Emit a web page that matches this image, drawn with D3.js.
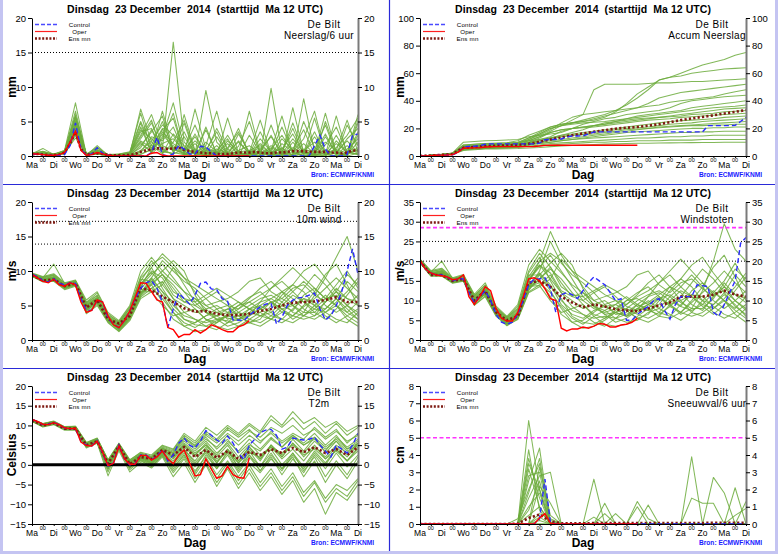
<!DOCTYPE html>
<html><head><meta charset="utf-8">
<script src="https://cdn.jsdelivr.net/npm/d3@7"></script>
<style>
body{margin:0;background:#fff}
svg{display:block}
text{font-family:'Liberation Sans',Arial,Helvetica,sans-serif}
</style>
</head><body>
<script>
// ---------------- time base & labels ----------------
const hours6 = d3.range(0, 361, 6);
const hours12 = d3.range(0, 361, 12);
const dayHours = d3.range(0, 361, 24);
const midnightHours = d3.range(12, 360, 24);
const dayLabels = ["Ma","Di","Wo","Do","Vr","Za","Zo","Ma","Di","Wo","Do","Vr","Za","Zo","Ma","Di"];
const midnightLabel = "00";
const titleText = "Dinsdag  23 December  2014  (starttijd  Ma 12 UTC)";
const station = "De Bilt";
const legendNames = ["Control", "Oper", "Ens mn"];
const xTitle = "Dag";
const sourceText = "Bron: ECMWF/KNMI";

// ---------------- Neerslag / 6 uur ----------------
const precipTicks = [0,5,10,15,20];
const precipRefs = [15];
const precipControl = [0.2,0.3,0.2,0.1,0.1,0.1,0.2,1.5,4.8,1.0, 0.1,0.3,1.2,0.4,0.1,0,0,0,0,0, 0,0,0.5,2.7,0.2,0,0.3,1.5,1.0,0.3, 0.3,1.4,1.3,0.6,0,0,0,0,0,0, 0,0,0,0,0,0,0,0,0,0, 0,0,1.5,3.0,1.0,0,0,0,0.2,3.0, 3.2];
const precipOper = [0.3,0.3,0.2,0.1,0.1,0.2,0.5,2.0,3.6,0.8, 0.1,0.2,0.5,0.3,0.1,0,0,0,0,0, 0,0,0.4,0.5,0.1,0,0,0,0,0, 0,0,0,0,0,0,0,0,0,0, 0];
const precipMean = [0.3,0.3,0.2,0.15,0.15,0.2,0.5,1.8,3.5,1.0, 0.2,0.3,0.4,0.3,0.15,0.1,0.1,0.1,0.15,0.3, 0.6,0.8,1.0,1.1,1.1,1.0,1.1,1.2,0.9,0.7, 0.6,0.5,0.4,0.4,0.3,0.3,0.3,0.4,0.5,0.5, 0.5,0.6,0.5,0.4,0.4,0.5,0.5,0.6,0.7,0.7, 0.7,0.6,0.6,0.6,0.6,0.5,0.5,0.4,0.5,0.8, 0.8];
const precipMembers = [
[0.3,0.5,0.2,0.6,4.5,0.2,0.8,0.1,0,0.2,6.8,2.0,0.5,1.5,0.3,0,0.8,3.5,0.2,0,0.5,1.2,0,0.3,2.5,0.5,0,0.8,0.2,1.5,0.3],
[0.2,0.3,0.1,0.5,5.5,0.1,0.5,0,0.1,0.5,2.5,4.8,1.0,16.5,2.0,0.5,0,0.3,1.8,0.2,0,0.6,3.0,0.1,0,0.4,5.5,0.3,0,0.2,1.0],
[0.3,1.1,0.2,0.4,3.2,0.3,1.2,0.2,0,0,1.5,3.5,5.8,0.5,0.2,6.8,1.0,0,0.4,2.2,0.3,0,0.5,4.2,0.6,0,0.3,2.8,0.5,0,4.8],
[0.2,0.4,0.3,0.8,7.7,0.2,0.4,0,0,0.3,4.2,0.5,2.8,7.7,1.2,0.3,0.2,1.5,0,0.3,6.5,0.5,0.2,0,1.0,3.8,0.2,0,2.2,0.5,0.3],
[0.3,0.3,0.2,0.5,4.0,0.1,0.9,0.1,0.2,0.4,3.0,6.0,1.5,0.8,3.5,0.2,9.5,2.0,0.3,0,0.8,0.2,1.5,0.4,0,0.3,0.9,4.5,0.3,0.2,2.0],
[0.4,0.6,0.2,0.7,5.0,0.3,0.6,0.1,0,0.1,0.8,2.2,4.5,3.0,0.5,1.8,0.3,0,5.5,0.5,0,1.8,0.3,0,7.0,0.5,0.3,0,1.2,3.0,5.5],
[0.2,0.3,0.2,0.3,3.0,0.1,0.3,0,0,0,0.2,1.0,3.8,5.5,0.4,0,1.2,0.5,0,3.2,0.6,0,9.8,0.5,0.2,0.8,2.0,0.3,0,0.5,0.8],
[0.3,0.5,0.1,0.6,6.0,0.2,0.7,0.2,0.3,0.6,5.0,1.5,0.3,2.0,5.2,0.6,0.2,0.8,2.5,0,0.3,3.5,0.4,1.2,0,8.3,0.6,0.2,0.4,0,3.5],
[0.2,0.4,0.2,0.4,4.2,0.1,1.5,0.1,0,0.2,1.8,0.6,6.5,1.0,0.2,0.5,3.8,0.4,0.2,0.6,0,0.4,1.0,3.0,0.5,0,0.2,1.6,4.2,0.6,0.2],
[0.3,0.3,0.2,0.5,3.6,0.2,0.5,0,0.1,0.3,3.5,4.0,0.8,0.3,1.0,4.5,0.6,0,0.2,1.4,5.0,0.3,0,0.6,4.0,0.2,0,5.0,0.6,2.2,0.5],
[0.4,0.7,0.3,0.6,5.8,0.3,0.4,0.1,0,0.1,0.5,2.8,2.2,4.2,0.6,0.3,1.5,6.5,0.4,0,0.2,2.5,0.6,0.2,1.2,0.4,3.5,0.2,0,4.5,1.5],
[0.2,0.3,0.2,0.4,2.6,0.1,0.6,0.2,0.2,0.4,2.2,1.2,4.0,0.6,2.8,0.4,0,0.5,3.0,0.5,0.3,0,0.8,5.8,0.3,0.6,0,0.4,3.0,0.3,6.0],
[0.3,0.4,0.2,0.5,4.8,0.2,1.0,0.1,0,0.2,4.8,0.3,1.8,2.5,0.8,2.8,0.4,0.2,0.9,4.0,0.2,0.7,0,1.8,0.6,2.5,6.5,0.3,0.6,0,0.4],
[0.2,0.5,0.2,0.7,6.5,0.1,0.3,0,0.1,0.2,1.2,3.8,0.6,0.4,4.8,0.2,2.0,0.6,0,0.8,1.5,0.2,4.5,0.3,0,1.0,0.5,2.0,0.8,5.2,0.6],
[0.3,0.3,0.3,0.4,3.8,0.2,0.8,0.1,0.3,0.5,6.2,0.8,3.2,1.2,0.3,0.5,0.6,4.0,1.0,0.2,0.5,5.2,0.3,0,2.0,0.3,0.8,0.2,5.8,0.3,1.2],
[0.2,0.4,0.1,0.5,5.2,0.3,0.5,0.1,0,0,0.6,1.6,5.0,0.9,0.5,3.2,0.3,1.0,0.4,0,3.0,0.6,0.2,2.5,0.8,0,0.5,3.2,0.2,1.0,2.5],
[0.3,0.6,0.2,0.6,4.4,0.2,0.6,0.2,0.1,0.3,2.8,5.2,0.4,3.2,1.5,0.2,4.2,0.3,0.6,2.0,0.4,0,1.2,0.5,4.8,0.6,0.2,0.8,0.3,2.5,4.0],
[0.2,0.3,0.2,0.3,3.4,0.1,1.3,0,0,0.2,0.3,0.9,2.5,6.2,0.3,1.0,0.4,0.2,2.2,0.6,0.8,1.5,0.3,0.6,0.2,5.0,1.2,0.4,1.8,0.6,0.3],
[0.4,0.5,0.2,0.8,5.6,0.2,0.4,0.1,0.2,0.4,3.8,2.5,1.0,0.2,6.0,0.8,0.2,2.8,0.3,0.5,0.2,0.9,2.8,0.4,0.5,1.8,0.3,6.2,0.5,0.2,3.0],
[0.3,0.4,0.2,0.5,4.6,0.2,0.7,0.1,0.1,0.2,2.0,0.5,3.5,1.8,0.6,2.2,0.8,0.4,1.2,3.5,0.3,0.4,0.6,1.0,3.2,0.4,2.8,0.5,0.9,0.4,5.2]
];

// ---------------- Accum Neerslag ----------------
const accumTicks = [0,20,40,60,80,100];
const accumControl = [0,0.1,0.3,0.5,0.6,0.7,0.9,2.4,6.5,7.0, 7.1,7.4,8.5,8.8,8.8,8.8,8.8,8.8,8.8,8.8, 8.8,8.8,9.3,11.8,12.0,12.0,12.3,13.8,14.5,14.5, 14.6,16.0,17.4,17.5,17.5,17.5,17.5,17.5,17.5,17.5, 17.5,17.5,17.5,17.5,17.5,17.5,17.5,17.5,17.5,17.5, 17.5,17.5,17.5,22.0,22.0,22.0,22.0,22.0,22.2,25.0, 28.0];
const accumOper = [0,0.1,0.3,0.5,0.6,0.7,1.0,2.8,5.6,5.8, 5.9,6.0,6.5,6.7,6.8,6.8,6.8,6.8,6.8,6.8, 6.8,6.9,7.2,7.7,7.8,7.8,7.8,7.8,7.8,7.8, 7.8,7.8,7.8,7.8,7.8,7.8,7.8,7.8,7.8,7.8, 7.8];
const accumMean = [0,0.4,0.8,1.5,6.0,6.5,7.2,7.5,7.7,8.0, 8.8,10.3,12.0,13.5,15.0,16.3,17.5,18.7,19.8,20.5, 21.0,22.0,23.0,24.5,26.0,27.2,28.3,29.5,30.8,32.0, 33.3];
const accumMembers = [
[0,0.5,1.0,1.8,6,6.5,7,7.5,8,9,12,16,20,22,24,26,28,30,33,37,42,48,55,57,60,63,66,68,70,73,75],
[0,0.4,0.9,1.6,7,7.5,8,8.3,8.6,9.5,13,17,21,23,24,25,26,28,32,38,45,50,55,57,58,60,61,62,63,63.5,64],
[0,0.3,0.8,1.5,5,5.5,6,6.3,6.8,8,11,14,18,22,26,30,48,52,52,52,52,52.5,53,53,53.5,54,54,54.5,55,55.5,56],
[0,0.5,1.2,2.0,8,8.5,9,9.3,9.6,11,15,18,21,23,24,25,27,29,31,33,35,38,42,44,46,47,48,49,50,51,52],
[0,0.4,1.0,1.7,6.5,7,7.5,7.8,8,9,12,15,19,24,28,30,31,32,33,34,35,36,37,39,40,41,42,43,45,46.5,48],
[0,0.6,1.3,2.2,10,10.5,11,11.3,11.6,12,14,15,16,17,20,23,25,27,28,30,31,32,33,35,38,40,41,42,43,43.5,44],
[0,0.3,0.7,1.3,5,5.5,6,6.2,6.5,7.5,10,13,17,19,20,21,22,23,25,27,29,30,31,32,33,35,36,37,38,39,40],
[0,0.5,1.1,1.9,7.5,8,8.5,8.8,9,10,13,16,20,22,23,24,24.5,25,26,27,28,29,30,31,32,33,34,35,35.5,36,37],
[0,0.4,0.9,1.5,5.5,6,6.5,6.8,7,8,10,12,14,18,20,21,22,23,24,25,26,27,28,29,30,31,32,33,34,34.5,35],
[0,0.3,0.8,1.4,6,6.3,6.8,7,7.2,8,9,11,13,15,17,19,22,24,25,26,27,27.5,28,28.5,29,30,30.5,31,32,32.5,33],
[0,0.5,1.0,1.8,7,7.5,8,8.2,8.5,9,11,14,17,19,20,20.5,21,22,23,24,25,26,26.5,27,28,28.5,29,29.5,30,30.5,31],
[0,0.4,0.9,1.6,6.5,7,7.5,7.7,8,8.5,9.5,11,13,15,16,17,18,19,20,21,22,23,24,25,25.5,26,26.5,27,28,28.5,29],
[0,0.3,0.7,1.2,4.5,5,5.5,5.7,6,6.5,8,10,12,14,15,16,17,18,19,20,20.5,21,22,23,23.5,24,25,25.5,26,26.5,27],
[0,0.4,0.9,1.5,6,6.5,7,7.2,7.5,8,9,10,11,12,13,14,15,16,17,18,19,20,21,21.5,22,22.5,23,23.5,24,24.5,25],
[0,0.5,1.1,1.9,8,8.5,9,9.2,9.5,10,11,12,13,14,15,15.5,16,17,18,19,19.5,20,20.5,21,21.5,22,22,22.5,22.5,23,23],
[0,0.3,0.8,1.4,5,5.5,6,6.2,6.5,7,8,9,10,11,12,13,14,15,16,17,17.5,18,18.5,19,19.5,20,20,20.5,20.5,21,21],
[0,0.4,0.9,1.6,6,6.5,7,7.2,7.4,7.8,8.5,9,10,11,12,12.5,13,13.5,14,14.5,15,15.5,16,16.5,17,17,17.5,17.5,18,18,18],
[0,0.3,0.7,1.2,4.5,5,5.5,5.6,5.8,6.2,7,8,9,9.5,10,10.5,11,11.5,12,12.5,13,13,13.5,14,14,14.5,14.5,15,15,15,15],
[0,0.4,0.8,1.4,5,5.5,6,6.1,6.3,6.6,7,7.5,8,8.5,9,9.5,10,10,10.5,10.5,11,11,11,11.5,11.5,11.5,12,12,12,12,12],
[0,0.3,0.7,1.2,4,4.5,5,5.1,5.2,5.4,5.8,6.2,6.8,7.2,7.6,8,8.3,8.6,8.8,9,9.2,9.3,9.4,9.5,9.6,9.7,9.8,9.8,9.9,10,10]
];

// ---------------- 10m wind ----------------
const windTicks = [0,5,10,15,20];
const windRefs = [10.8, 13.9, 17.2];
const windControl = [9.5,9.2,8.6,8.4,8.9,8.2,8.0,8.3,8.2,6.0, 4.3,4.3,5.8,5.5,3.2,2.3,1.8,2.8,4.2,6.0, 7.5,8.3,8.6,7.5,5.5,1.8,4.5,6.8,6.0,5.2, 6.5,8.2,8.4,7.4,7.3,6.0,5.6,2.9,2.9,2.8, 3.6,4.2,4.8,5.2,5.3,2.3,3.3,5.0,5.8,6.1, 6.2,6.5,6.8,4.5,2.9,3.5,5.0,7.0,10.0,13.2, 9.5];
const windOper = [9.5,9.0,8.5,8.3,8.8,8.0,7.8,8.3,8.0,5.5, 4.0,4.3,5.8,5.5,3.5,2.2,1.8,2.8,4.2,6.2, 8.3,8.2,7.0,5.8,5.5,1.8,1.5,0.4,0.8,0.8, 1.5,1.0,1.5,2.2,1.9,1.5,1.2,1.2,1.9,2.2, 2.8];
const windMean = [9.4,8.6,8.8,7.8,8.2,4.7,5.8,3.0,2.4,3.5, 7.5,7.2,6.3,5.5,4.6,4.1,4.2,3.8,3.6,3.6, 3.8,4.2,4.5,5.0,5.4,5.5,5.6,5.8,6.2,5.5, 5.5];
const windMembers = [
[9.5,8.8,9.0,7.8,8.2,4.8,5.8,3.0,2.0,3.8,7.5,9.0,7.0,4.5,3.0,2.5,3.5,4.0,3.2,2.8,4.5,5.5,6.0,5.0,4.2,6.5,7.5,6.0,5.0,4.0,5.5],
[9.3,8.5,8.6,7.5,8.0,4.2,5.5,2.8,1.5,3.2,6.8,8.2,9.5,8.0,6.0,4.5,3.0,2.5,3.8,5.0,6.2,7.0,5.5,4.0,3.5,4.8,6.0,7.5,9.0,7.5,6.0],
[9.6,9.0,11.0,8.2,8.5,5.2,6.2,3.4,2.4,4.2,8.5,11.0,12.0,10.5,8.0,5.5,4.0,3.5,2.5,3.0,4.0,3.5,4.5,6.5,8.0,7.0,5.0,4.5,6.0,8.5,7.0],
[9.4,8.7,8.8,7.8,8.3,4.6,5.9,3.0,1.8,3.5,7.0,7.5,6.0,4.0,2.5,1.8,2.8,3.5,4.5,3.5,2.5,3.0,5.0,7.0,6.0,4.5,3.5,5.5,7.0,5.0,3.5],
[9.5,8.9,9.2,8.0,8.0,5.0,6.0,3.2,2.2,4.0,8.0,10.0,9.0,6.5,5.5,6.0,4.5,3.0,2.0,2.5,3.5,5.5,7.5,8.5,7.0,5.5,4.0,3.0,4.5,6.5,8.5],
[9.2,8.4,8.5,7.3,7.8,3.8,5.0,2.5,1.2,2.8,6.0,7.0,8.0,10.5,9.0,7.0,5.0,4.0,4.5,5.5,4.5,3.5,3.0,4.0,5.5,7.5,9.5,8.0,6.0,4.0,3.0],
[9.6,9.1,9.4,8.1,8.6,5.5,6.8,3.8,2.6,4.5,9.0,10.5,7.5,5.0,3.5,3.0,2.0,1.5,2.5,4.0,5.0,6.0,6.5,5.5,4.0,3.5,4.5,6.0,8.0,10.0,7.5],
[9.3,8.6,8.7,7.6,8.1,4.4,5.6,2.9,1.6,3.3,6.5,8.5,10.0,11.5,10.0,6.5,4.0,3.0,3.5,4.0,3.0,2.5,3.5,5.0,6.5,5.5,4.5,4.0,5.0,3.5,2.5],
[9.5,8.8,9.1,7.9,8.4,5.1,6.1,3.3,2.1,4.1,7.8,9.5,11.0,9.0,7.0,5.0,6.0,7.0,5.5,4.0,3.5,4.5,5.5,4.5,3.0,4.0,6.5,9.0,12.0,15.0,10.0],
[9.4,8.7,8.9,7.7,8.2,4.7,5.7,3.1,1.9,3.7,7.2,8.0,5.5,3.0,2.0,2.5,3.5,4.5,5.0,3.5,2.5,2.0,3.0,4.5,5.0,6.0,5.5,4.0,3.0,2.5,4.0],
[9.7,9.2,9.6,8.3,8.7,5.8,7.0,4.0,2.8,5.0,10.0,12.0,10.0,8.5,7.0,6.0,5.0,5.5,6.0,7.0,8.5,9.0,7.0,6.0,7.5,8.0,6.5,5.5,7.0,9.5,8.0],
[9.3,8.5,8.6,7.4,7.9,4.0,5.2,2.6,1.3,3.0,6.2,7.5,8.5,6.0,4.0,3.0,2.5,3.0,2.8,2.0,2.5,3.5,4.0,3.0,2.5,3.5,5.0,6.5,5.0,3.0,2.0],
[9.5,8.9,9.0,7.9,8.3,4.9,6.0,3.2,2.3,4.3,8.2,9.8,8.0,6.0,5.0,4.0,4.5,5.0,4.0,3.0,4.0,5.0,4.0,5.5,7.0,8.5,7.0,5.0,4.0,5.0,6.5],
[9.4,8.6,8.8,7.6,8.1,4.3,5.4,2.7,1.7,3.4,6.8,9.0,11.5,10.0,8.5,7.5,6.0,4.5,3.0,3.5,4.5,4.0,3.0,2.5,3.5,5.0,7.0,9.5,11.0,8.0,5.0],
[9.6,9.0,9.3,8.0,8.5,5.3,6.4,3.5,2.5,4.6,8.8,8.5,6.5,4.0,2.0,1.2,1.5,2.5,3.5,4.5,6.0,7.5,8.5,7.0,5.0,3.5,3.0,4.0,5.5,7.0,9.0],
[9.3,8.5,8.7,7.5,8.0,4.5,5.5,2.9,1.4,3.1,6.4,8.0,9.5,7.5,5.5,5.0,4.0,3.5,4.0,5.0,5.5,4.5,3.5,3.0,4.5,6.0,5.0,3.5,2.5,3.5,4.5],
[9.5,8.8,9.1,7.8,8.3,5.0,6.0,3.1,2.0,3.9,7.6,10.5,12.5,11.0,9.0,8.0,7.0,6.0,5.0,4.5,5.5,6.5,7.5,9.0,10.5,9.0,7.5,6.0,6.5,5.0,4.0],
[9.4,8.7,8.9,7.7,8.2,4.6,5.8,3.0,1.9,3.6,7.0,7.0,5.0,3.5,4.0,4.5,3.0,2.0,1.5,2.0,3.0,4.0,5.5,6.0,5.0,4.0,4.0,5.5,7.5,6.0,5.0],
[9.6,9.1,9.5,8.2,8.6,5.4,6.5,3.6,2.7,4.8,9.2,11.5,9.5,7.0,6.0,5.5,6.5,7.5,6.5,5.5,4.5,5.0,6.0,7.0,8.0,10.0,11.0,9.0,7.0,6.0,5.5],
[9.4,8.6,8.8,7.6,8.0,4.4,5.6,2.8,1.6,3.4,6.6,8.8,7.0,5.5,3.0,2.2,2.0,2.8,3.5,3.0,3.5,4.5,5.5,4.5,3.5,3.0,3.5,4.5,6.0,4.5,3.0]
];

// ---------------- Windstoten ----------------
const gustTicks = [0,5,10,15,20,25,30,35];
const gustRefs = [20, 25];
const gustAlarm = [28.5];
const gustControl = [20.0,18,17,16.5,16.5,16,15,15.5,15.5,12, 9.5,11,12.5,10,6.5,4.5,4.0,4.5,6.5,10, 14,15.5,15.5,15.8,13,7,11.5,12,11.5,10.5, 12.5,14.5,16,15,14,12,10,10.5,5,5, 6.5,7.5,8.5,10,10.5,7.5,5.3,9,11,11, 11,14,13.8,13.5,7,6,9,12,15,24.5, 26];
const gustOper = [20.2,18,17,16.5,16.3,16,15.3,15.5,16.5,11, 9,11,13.5,12.5,8,5.5,4.8,4.8,7,11, 15.5,15.8,15,13,10.5,10,3,2.3,2.8,2.8, 3.3,3.0,3.5,4.2,4.0,3.3,3.3,3.8,4.0,4.5, 5.5];
const gustMean = [20,16.5,16.5,15,15.5,10,12.5,7,5,6, 14.5,15,13.5,11,9.5,8.3,9,8.5,7.8,7.5, 7.3,8,8.8,9.5,11,11,11,11.5,12.5,11.5, 11];
const gustMembers = [
[20.0,16.8,17.0,15.0,15.5,10.0,12.5,7.0,4.8,6.5,14.0,17.0,14.0,9.0,6.5,5.5,7.5,8.5,7.0,6.0,9.0,11.0,12.0,10.0,8.5,12.5,14.5,12.0,10.0,8.0,11.0],
[19.8,16.5,16.4,14.6,15.2,9.2,11.8,6.5,4.2,5.8,13.0,15.5,18.0,15.5,12.0,9.0,6.5,5.5,7.5,10.0,12.0,13.5,11.0,8.5,7.0,9.5,12.0,14.5,17.5,14.5,12.0],
[20.3,17.2,20.0,15.6,16.0,10.8,13.2,7.6,5.4,7.5,16.0,20.0,22.0,20.0,15.5,11.0,8.5,7.5,5.5,6.5,8.0,7.5,9.0,12.5,15.5,13.5,10.0,9.0,12.0,16.5,13.5],
[19.9,16.7,16.8,15.0,15.6,9.8,12.6,7.0,4.6,6.2,13.5,14.5,12.0,8.5,5.5,4.0,6.0,7.5,9.0,7.5,5.5,6.5,10.0,13.5,12.0,9.0,7.5,11.0,13.5,10.0,7.5],
[20.1,16.9,17.4,15.2,15.3,10.4,12.8,7.2,5.0,6.8,15.0,19.0,17.0,12.5,11.0,12.0,9.0,6.5,4.5,5.5,7.5,11.0,14.5,16.5,13.5,11.0,8.5,6.5,9.0,12.5,16.0],
[19.6,16.2,16.2,14.4,14.9,8.8,11.0,6.0,3.8,5.2,12.0,13.5,15.5,20.5,17.5,13.5,10.0,8.5,9.0,11.0,9.0,7.5,6.5,8.5,11.0,14.5,18.0,15.5,12.0,8.5,6.5],
[20.4,17.4,17.8,15.5,16.4,11.2,14.0,8.2,5.8,8.0,17.0,21.0,15.0,10.0,7.5,6.5,4.5,3.5,5.5,8.0,10.0,11.5,12.5,11.0,8.5,7.5,9.0,12.0,15.0,19.5,14.5],
[19.7,16.4,16.5,14.7,15.4,9.4,11.6,6.4,4.0,5.6,12.5,16.5,19.5,22.0,19.0,13.0,8.5,6.5,7.0,8.0,6.5,5.5,7.0,10.0,12.5,11.0,9.0,8.0,10.0,7.5,5.5],
[20.2,17.0,17.6,15.3,15.8,10.6,12.9,7.4,5.2,7.2,15.2,18.5,21.5,17.5,13.5,10.0,12.0,13.5,11.0,8.5,7.5,9.0,11.0,9.0,6.5,8.0,12.5,20.0,29.5,23.0,20.0],
[19.9,16.6,16.9,14.9,15.5,9.6,12.2,6.8,4.5,6.0,13.8,15.0,11.0,6.5,4.5,5.0,7.0,9.0,10.0,7.5,5.5,4.5,6.0,9.0,10.0,11.5,11.0,8.5,6.5,5.5,8.0],
[20.5,17.6,18.2,15.8,16.6,11.6,14.5,8.6,6.0,9.0,19.0,23.0,20.0,17.0,14.0,12.0,10.0,11.0,12.0,13.5,16.5,17.5,14.0,12.0,14.5,15.5,13.0,11.0,13.5,18.0,15.5],
[19.6,16.3,16.3,14.5,15.0,8.9,11.2,6.2,3.6,5.4,12.2,14.0,16.5,12.0,8.5,6.5,5.5,6.0,5.5,4.5,5.0,7.0,8.0,6.5,5.0,7.0,10.0,12.5,10.0,6.5,4.5],
[20.0,17.0,17.2,15.1,15.7,10.2,12.7,7.1,5.1,7.0,15.5,19.0,15.5,12.0,10.0,8.0,9.0,10.0,8.0,6.0,8.0,10.0,8.0,11.0,13.5,16.5,13.5,10.0,8.0,10.0,12.5],
[19.8,16.5,16.7,14.8,15.3,9.3,11.9,6.6,4.3,5.9,13.2,17.5,25.0,19.5,16.5,14.5,12.0,9.0,6.5,7.0,9.0,8.0,6.0,5.5,7.0,10.0,13.5,18.5,21.5,16.0,10.0],
[20.3,17.1,17.5,15.4,16.2,11.0,13.5,7.8,5.6,7.8,16.5,16.5,12.5,8.0,4.5,3.0,3.5,5.0,7.0,9.0,11.5,14.5,16.5,13.5,10.0,7.0,6.0,8.0,10.5,13.5,17.0],
[19.7,16.4,16.6,14.6,15.1,9.5,11.7,6.5,4.1,5.7,12.8,15.5,18.5,14.5,11.0,10.0,8.0,7.0,8.0,10.0,10.5,9.0,7.0,6.0,9.0,11.5,10.0,7.0,5.5,7.0,9.0],
[20.1,16.9,17.3,15.2,15.8,10.3,12.8,7.1,4.9,6.6,14.5,20.0,27.5,21.5,17.5,15.5,13.5,11.5,10.0,9.0,11.0,12.5,14.5,17.5,20.5,17.5,14.5,11.5,12.5,10.0,8.0],
[19.9,16.7,16.9,14.9,15.5,9.8,12.3,6.9,4.6,6.4,13.6,13.8,10.0,7.0,8.0,9.0,6.0,4.0,3.5,4.0,6.0,8.0,10.5,11.5,9.5,8.0,8.0,10.5,14.5,11.5,9.5],
[20.4,17.3,18.0,15.6,16.3,11.3,13.8,8.0,5.7,8.5,17.5,22.0,18.5,13.5,11.5,11.0,12.5,14.0,12.5,10.5,8.5,9.5,11.5,13.5,15.5,19.0,21.0,17.0,13.5,11.5,10.5],
[19.8,16.6,16.8,14.7,15.2,9.5,12.0,6.7,4.4,6.1,13.4,16.8,13.5,10.5,6.0,4.5,4.0,5.5,7.0,6.0,7.0,9.0,10.5,9.0,7.0,6.0,7.0,9.0,11.5,9.0,6.0]
];

// ---------------- T2m ----------------
const tempTicks = [-15,-10,-5,0,5,10,15,20];
const tempZero = [0];
const tempControl = [11.5,11.0,10.2,10.3,10.8,10.2,9.3,9.2,9.2,6.0, 5.0,4.8,6.2,3.0,-0.3,0.5,5.0,1.5,0,0.3, 2.5,2.5,1.3,2.2,3.8,1.0,2.5,5.5,6.8,5.0, 4.3,6.0,8.7,7.5,6.3,5.5,7.3,5.5,3.0,1.3, 5.0,6.5,8.2,8.8,9.0,7.5,4.0,4.5,6.8,6.5, 6.3,6.5,7.0,5.0,3.5,2.0,5.0,4.0,3.0,5.0, 8.0];
const tempOper = [11.5,11.0,10.3,10.2,10.7,10.2,9.4,9.2,9.3,5.8, 4.9,4.8,6.0,3.2,-0.2,0.4,4.8,1.6,0.1,0.2, 2.4,2.4,1.2,2.0,3.5,1.5,0.3,2.5,3.8,0.5, -2.8,-2.5,1.5,-1.0,-3.4,-2.8,-0.3,-2.5,-3.2,-3.4, 1.8];
const tempMean = [11.3,10.0,10.6,9.2,9.2,5.0,6.0,0.3,4.8,0.2, 2.0,1.5,3.8,2.5,4.5,2.0,3.8,1.8,3.5,1.5, 3.3,2.5,4.0,3.0,4.3,3.2,4.5,3.0,4.0,2.5, 4.5];
const tempMembers = [
[11.3,10.0,10.6,9.2,9.3,5.0,6.0,0.0,4.8,0.2,2.0,1.0,3.5,1.5,4.5,2.0,4.0,1.0,3.5,0.5,3.0,2.0,4.5,3.0,5.0,2.5,4.0,1.5,3.5,1.0,4.0],
[11.5,10.3,10.9,9.5,9.6,5.4,6.4,0.8,5.2,0.8,2.6,1.8,4.2,3.0,6.5,4.5,7.5,5.5,8.0,6.0,8.5,7.0,9.5,8.0,10.0,7.5,9.0,6.5,8.5,6.0,7.5],
[11.1,9.7,10.4,9.0,9.0,4.6,5.7,-1.2,4.2,-0.8,1.2,-0.5,2.5,-1.5,2.0,-2.5,1.5,-3.5,0.5,-4.0,0.0,-4.5,-1.0,-5.5,-2.0,-7.0,-4.0,-8.5,-5.0,-6.5,-3.5],
[11.4,10.1,10.7,9.3,9.4,5.1,6.2,0.3,5.0,0.5,2.3,1.2,3.8,2.5,5.5,3.5,6.0,3.0,5.5,2.0,5.0,3.5,6.5,4.5,7.0,5.0,6.5,4.0,6.0,3.5,5.0],
[11.2,9.9,10.5,9.1,9.2,4.8,5.9,-0.5,4.5,-0.3,1.6,0.5,3.0,0.0,3.0,-0.5,3.5,0.5,4.0,1.0,4.5,1.5,5.0,2.0,5.5,2.0,5.0,1.5,4.5,2.0,5.0],
[11.6,10.5,11.1,9.7,9.8,5.7,6.8,1.2,5.5,1.3,3.0,2.2,4.8,3.8,7.5,5.5,8.5,6.5,9.5,7.5,10.0,8.0,11.5,9.5,12.0,9.0,11.0,8.0,10.5,7.5,9.5],
[11.3,10.0,10.6,9.2,9.3,5.0,6.0,-0.2,4.7,0.0,1.8,0.8,3.3,1.0,4.0,0.5,3.5,-0.5,3.0,-1.5,2.5,-0.5,3.0,-1.0,2.0,-3.0,1.0,-4.5,0.0,-3.5,1.0],
[11.4,10.2,10.8,9.4,9.5,5.2,6.3,0.5,5.0,0.6,2.4,1.5,4.0,2.0,5.0,2.5,5.5,2.0,5.0,1.0,4.5,1.5,5.0,2.0,5.5,3.0,6.0,3.5,7.0,4.5,6.5],
[11.0,9.6,10.2,8.8,8.8,4.3,5.5,-2.8,3.6,-1.8,0.6,-0.8,2.0,-3.0,0.5,-4.5,0.0,-5.5,-1.0,-6.0,-2.0,-6.5,-3.0,-7.5,-4.0,-9.5,-6.0,-12.5,-7.0,-9.0,-5.0],
[11.5,10.4,11.0,9.6,9.7,5.5,6.6,1.0,5.3,1.0,2.8,2.0,4.5,3.5,7.0,5.0,8.0,6.0,9.0,7.0,9.0,6.0,8.0,5.5,7.5,5.0,7.0,4.5,6.5,4.0,5.5],
[11.2,9.8,10.5,9.1,9.1,4.7,5.8,-0.8,4.4,-0.5,1.4,0.2,2.8,-0.5,2.5,-1.5,2.0,-2.5,1.0,-3.0,0.5,-2.0,1.5,-1.5,2.5,-1.0,3.0,0.0,4.0,1.0,3.5],
[11.4,10.1,10.8,9.3,9.4,5.2,6.2,0.4,4.9,0.4,2.2,1.4,3.7,2.2,5.2,3.0,5.0,1.5,3.5,-0.5,2.5,-1.5,2.0,-2.5,1.5,-2.0,2.5,-1.0,3.0,-0.5,2.5],
[11.6,10.4,11.0,9.6,9.8,5.6,6.7,1.3,5.4,1.2,3.2,2.5,5.0,4.0,8.0,6.0,9.5,7.5,10.0,8.0,10.5,8.5,12.5,10.0,13.5,10.5,12.0,9.5,11.0,8.5,10.0],
[11.3,9.9,10.6,9.2,9.2,4.9,6.0,-0.3,4.6,-0.1,1.9,0.6,3.2,0.5,3.5,0.0,3.0,-1.0,2.5,-2.0,2.0,-1.5,2.5,-1.0,3.0,-0.5,3.5,0.5,4.0,1.0,4.5],
[11.5,10.2,10.9,9.4,9.5,5.3,6.4,0.7,5.1,0.7,2.5,1.6,4.1,2.8,6.0,4.0,6.5,4.5,7.5,5.0,7.5,5.5,8.5,6.0,8.0,6.5,9.5,7.0,9.0,5.5,8.0],
[11.1,9.7,10.3,9.0,8.9,4.5,5.6,-1.8,4.0,-1.2,1.0,-0.3,2.3,-2.0,1.5,-3.5,0.5,-4.5,-0.5,-5.0,-1.0,-5.5,-2.0,-6.5,-3.0,-8.0,-4.5,-9.5,-6.0,-8.0,-4.0],
[11.4,10.0,10.7,9.3,9.3,5.1,6.1,0.1,4.8,0.3,2.1,1.1,3.6,1.8,4.8,2.5,5.0,2.5,6.0,3.5,6.5,4.0,7.0,4.5,7.5,5.5,8.0,5.0,7.5,4.0,6.0],
[11.3,10.0,10.6,9.2,9.2,4.9,5.9,-0.6,4.6,-0.4,1.7,0.4,3.1,0.3,3.8,1.0,4.5,0.5,4.0,-1.0,3.5,-0.5,4.0,0.0,3.0,-1.5,2.0,-3.0,1.0,-2.5,2.0],
[11.5,10.3,10.9,9.5,9.6,5.4,6.5,0.9,5.2,0.9,2.7,1.9,4.3,3.2,6.8,4.8,7.0,4.0,6.5,3.0,5.5,2.5,4.5,1.5,4.0,1.0,4.5,2.0,5.0,3.0,5.5],
[11.2,9.8,10.4,9.0,9.0,4.6,5.7,-1.0,4.3,-0.6,1.3,0.0,2.6,-1.0,2.5,-2.0,2.5,-1.0,3.5,0.5,4.0,1.0,5.0,2.5,6.5,3.5,7.0,3.0,6.0,2.5,5.5]
];

// ---------------- Sneeuwval / 6 uur ----------------
const snowTicks = [0,1,2,3,4,5,6,7,8];
const snowAlarm = [5];
const snowControl = [0,0,0,0,0,0,0,0,0,0, 0,0,0,0,0,0,0,0,0,0, 0,0,0.3,2.6,0.1,0,0,0,0,0, 0,0,0,0,0,0,0,0,0,0, 0,0,0,0,0,0,0,0,0,0, 0,0,0,0,0,0,0,0,0,0, 0];
const snowOper = [0,0,0,0,0,0,0,0,0,0, 0,0,0,0,0,0,0,0,0,0, 0,0,0.35,0.6,0.05,0,0,0,0,0, 0,0,0,0,0,0,0,0,0,0, 0];
const snowMean = [0,0,0,0,0,0,0,0,0,0.02, 0.35,0.55,0.15,0.04,0.04,0.04,0.05,0.05,0.05,0.05, 0.05,0.05,0.05,0.05,0.05,0.06,0.06,0.07,0.07,0.07, 0.07];
const snowMembers = [
[0,0,0,0,0,0,0,0,0,0, 3.8,1.5,0,0,0,0,0,0,0,0, 0,0,0,0,0,0,0,0,0,0, 0],
[0,0,0,0,0,0,0,0,0,0, 6.0,2.0,0.1,0,0,0,0,0,0,0, 0,0,0,0,0,0,0,0,0,0, 0],
[0,0,0,0,0,0,0,0,0,0, 2.5,4.4,0,0,0,0,0,0,0,0, 0,0,0,0,0,0,0,0,0,0, 0],
[0,0,0,0,0,0,0,0,0,0, 0,3.3,0.5,0,0,0,0,0,0,0, 0,0,0,0,0,0,0,0,0,0, 0],
[0,0,0,0,0,0,0,0,0,0, 1.5,2.8,3.0,0,0,0,0,0,0,0, 0,0,0,0,0,0,0,0,0,0, 0],
[0,0,0,0,0,0,0,0,0,0, 4.3,0.8,0,0,0,0,0,0,0,0, 0,0,0,0,0,0,0,0,0,0, 0],
[0,0,0,0,0,0,0,0,0,0.3, 2.0,3.5,0,0,0,0,0,0,0,0, 0,0,0,0,0,0,0,0,0,0, 0],
[0,0,0,0,0,0,0,0,0,0, 3.2,1.0,0,0,0,0,2.6,0,0,0, 0,0,0,0,0,0,0,0,0,0, 0],
[0,0,0,0,0,0,0,0,0,0, 0,2.2,1.2,0,0,0,0,1.2,0,0, 0,0,0,0,0,0,0,0,0,0, 0],
[0,0,0,0,0,0,0,0,0,0, 1.0,1.8,0,0,0,0,0,0,0,0, 1.3,0.3,0,0,0,0,0,0,0,0, 0],
[0,0,0,0,0,0,0,0,0,0, 2.8,3.0,0,0,0,0,0,0,0,0, 0,0,0,0,0,3.9,0,0,0,0, 0],
[0,0,0,0,0,0,0,0,0,0, 0,0,0,0,0,0,0,0,0,0, 0,0,0,0,0,0,0,2.7,1.8,0, 0],
[0,0,0,0,0,0,0,0,0,0, 0.8,2.5,0,0,0,0,0,0,0,0, 0,0,0,0,0,0,0,0,0,2.1, 0],
[0,0,0,0,0,0,0,0,0,0, 0,0.6,0.3,0,0,0,0,0,0.6,0, 0,1.1,0,0,0,0,0,0,0,0, 0],
[0,0,0,0,0,0,0,0,0,0, 3.5,2.0,0,0,0,0,0,0,0,0, 0,0,0,0,0,1.5,1.2,1.2,0,0, 0],
[0,0,0,0,0,0,0,0,0,0, 0,0,0,0,0,0,0,0,0,0, 1.0,0,0,0,0,0,0,0,0,0, 1.3],
[0,0,0,0,0,0,0,0,0,0, 1.8,3.8,0.2,0,0,0,0,0,0,0, 0,0,0,0,0,0,0,0,0,0, 0],
[0,0,0,0,0,0,0,0,0,0, 0,0.4,0,0,0,0,0,0,0,0, 0,0,0,0,0,0,0,0,0,0.5, 0.9],
[0,0,0,0,0,0,0,0,0,0, 0.5,1.0,0.1,0,0,0,0,0.6,0,0, 0,0,0,0,0,0,0,0,0,0, 0],
[0,0,0,0,0,0,0,0,0,0, 0,0.2,0,0,0,0,0.4,0,0,0, 0,0,0,0,0,0,0,0,0,0, 0]
];

// ---------------- panel table (built from the arrays) ----------------
const dotted = {color:"#000", width:1, dash:"1,2"};
const magenta = {color:"#ff33ff", width:1.6, dash:"4,2.5"};
const thick = {color:"#000", width:3, dash:null};
const panels = [
  {key:"p1", col:0, row:0, domain:[0,20], ticks:precipTicks, ylabel:"mm", name:"Neerslag/6 uur",
   members:precipMembers, control:precipControl, oper:precipOper, mean:precipMean, meanHours:hours6,
   refs:precipRefs.map(v=>({v, ...dotted}))},
  {key:"p2", col:1, row:0, domain:[0,100], ticks:accumTicks, ylabel:"mm", name:"Accum Neerslag",
   members:accumMembers, control:accumControl, oper:accumOper, mean:accumMean, meanHours:hours12, refs:[]},
  {key:"p3", col:0, row:1, domain:[0,20], ticks:windTicks, ylabel:"m/s", name:"10m wind",
   members:windMembers, control:windControl, oper:windOper, mean:windMean, meanHours:hours12,
   refs:windRefs.map(v=>({v, ...dotted}))},
  {key:"p4", col:1, row:1, domain:[0,35], ticks:gustTicks, ylabel:"m/s", name:"Windstoten",
   members:gustMembers, control:gustControl, oper:gustOper, mean:gustMean, meanHours:hours12,
   refs:gustRefs.map(v=>({v, ...dotted})).concat(gustAlarm.map(v=>({v, ...magenta})))},
  {key:"p5", col:0, row:2, domain:[-15,20], ticks:tempTicks, ylabel:"Celsius", name:"T2m",
   members:tempMembers, control:tempControl, oper:tempOper, mean:tempMean, meanHours:hours12,
   refs:tempZero.map(v=>({v, ...thick}))},
  {key:"p6", col:1, row:2, domain:[0,8], ticks:snowTicks, ylabel:"cm", name:"Sneeuwval/6 uur",
   members:snowMembers, control:snowControl, oper:snowOper, mean:snowMean, meanHours:hours12,
   refs:snowAlarm.map(v=>({v, ...magenta}))}
];

// ---------------- drawing ----------------
const W = 778, H = 554, PW = 388, PH = 184;
const FONT = "'Liberation Sans', Arial, Helvetica, sans-serif";
const svg = d3.select("body").append("svg").attr("width", W).attr("height", H)
  .attr("font-family", FONT);
svg.append("rect").attr("width", W).attr("height", H).attr("fill", "#fff");

const styles = {
  member: {stroke:"#6cab3c", width:1.05, opacity:0.85},
  control: {stroke:"#2a2aff", width:1.4, dash:"5,3"},
  oper: {stroke:"#ff0000", width:1.4},
  mean: {stroke:"#7e1a12", width:2.6, dash:"2.2,2.2"}
};

function drawPanel(p) {
  const x0 = p.col * PW, y0 = p.row * PH;
  const L = x0 + 32, R = x0 + 358, T = y0 + 18, B = y0 + 156;
  const x = d3.scaleLinear().domain([0, 360]).range([L, R]);
  const y = d3.scaleLinear().domain(p.domain).range([B, T]);
  const g = svg.append("g");

  const clipId = "clip-" + p.key;
  svg.append("clipPath").attr("id", clipId).append("rect")
    .attr("x", L).attr("y", T - 2).attr("width", R - L).attr("height", B - T + 2);
  const plot = g.append("g").attr("clip-path", `url(#${clipId})`);

  const line12 = d3.line().x((d, i) => x(hours12[i])).y(d => y(d));
  const line6 = d3.line().x((d, i) => x(hours6[i])).y(d => y(d));
  const lineMean = d3.line().x((d, i) => x(p.meanHours[i])).y(d => y(d));

  plot.append("g").selectAll("path").data(p.members).join("path")
    .attr("d", line12).attr("fill", "none")
    .attr("stroke", styles.member.stroke).attr("stroke-width", styles.member.width)
    .attr("stroke-opacity", styles.member.opacity).attr("stroke-linejoin", "round");

  plot.append("g").selectAll("line").data(p.refs).join("line")
    .attr("x1", x(0)).attr("x2", x(360))
    .attr("y1", d => y(d.v)).attr("y2", d => y(d.v))
    .attr("stroke", d => d.color).attr("stroke-width", d => d.width)
    .attr("stroke-dasharray", d => d.dash);

  plot.append("path").attr("d", lineMean(p.mean)).attr("fill", "none")
    .attr("stroke", styles.mean.stroke).attr("stroke-width", styles.mean.width)
    .attr("stroke-dasharray", styles.mean.dash);
  plot.append("path").attr("d", line6(p.control)).attr("fill", "none")
    .attr("stroke", styles.control.stroke).attr("stroke-width", styles.control.width)
    .attr("stroke-dasharray", styles.control.dash);
  plot.append("path").attr("d", line6(p.oper)).attr("fill", "none")
    .attr("stroke", styles.oper.stroke).attr("stroke-width", styles.oper.width);

  // axes
  const fmt = d3.format("d");
  const ax = g.append("g").attr("transform", `translate(${L},0)`)
    .call(d3.axisLeft(y).tickValues(p.ticks).tickFormat(fmt).tickSize(4).tickSizeOuter(0).tickPadding(2));
  ax.attr("font-family", FONT).attr("font-size", 9.5);
  ax.select(".domain").attr("stroke", "#000");
  const axr = g.append("g").attr("transform", `translate(${R},0)`)
    .call(d3.axisRight(y).tickValues(p.ticks).tickFormat(fmt).tickSize(4).tickSizeOuter(0).tickPadding(2));
  axr.attr("font-family", FONT).attr("font-size", 9.5);
  axr.select(".domain").attr("stroke", "#7a7a7a").attr("stroke-width", 2);
  const axb = g.append("g").attr("transform", `translate(0,${B})`)
    .call(d3.axisBottom(x).tickValues(hours12).tickFormat("").tickSize(2).tickSizeOuter(0));
  axb.select(".domain").attr("stroke", "#000");

  // x labels
  g.append("g").selectAll("text").data(dayHours).join("text")
    .attr("x", d => x(d)).attr("y", B + 11.5).attr("text-anchor", "middle")
    .attr("font-size", 8.5).text((d, i) => dayLabels[i]);
  g.append("g").selectAll("text").data(midnightHours).join("text")
    .attr("x", d => x(d)).attr("y", B + 5.8).attr("text-anchor", "middle")
    .attr("font-size", 5.5).text(midnightLabel);
  g.append("text").attr("x", x0 + 195).attr("y", B + 23).attr("text-anchor", "middle")
    .attr("font-size", 12).attr("font-weight", "bold").text(xTitle);
  g.append("text").attr("x", x0 + 311).attr("y", B + 21).attr("font-size", 6.6)
    .attr("font-weight", "bold").attr("fill", "#1a1aff").text(sourceText);

  // y label
  g.append("text").attr("transform", `translate(${x0 + 16},${y0 + 87}) rotate(-90)`)
    .attr("text-anchor", "middle").attr("font-size", 12).attr("font-weight", "bold").text(p.ylabel);

  // title
  g.append("text").attr("x", x0 + 67).attr("y", y0 + 12.5)
    .attr("font-size", 10.5).attr("font-weight", "bold")
    .attr("textLength", 256).attr("lengthAdjust", "spacing")
    .style("white-space", "pre").text(titleText);

  // station & variable
  g.append("text").attr("x", x0 + 324).attr("y", y0 + 28).attr("text-anchor", "middle")
    .attr("font-size", 10).attr("letter-spacing", 0.5).text(station);
  g.append("text").attr("x", x0 + 319).attr("y", y0 + 38.5).attr("text-anchor", "middle")
    .attr("font-size", 10).attr("letter-spacing", 0.3).text(p.name);

  // legend
  const lg = g.append("g");
  const ly = [y0 + 24.5, y0 + 31.5, y0 + 38.5];
  lg.append("line").attr("x1", x0 + 35).attr("x2", x0 + 57).attr("y1", ly[0]).attr("y2", ly[0])
    .attr("stroke", "#4a4aff").attr("stroke-width", 1.6).attr("stroke-dasharray", "4,2");
  lg.append("line").attr("x1", x0 + 35).attr("x2", x0 + 57).attr("y1", ly[1]).attr("y2", ly[1])
    .attr("stroke", "#ff2020").attr("stroke-width", 1.2);
  lg.append("line").attr("x1", x0 + 35).attr("x2", x0 + 57).attr("y1", ly[2]).attr("y2", ly[2])
    .attr("stroke", styles.mean.stroke).attr("stroke-width", 2.4).attr("stroke-dasharray", "2,1.6");
  lg.selectAll("text").data(legendNames).join("text")
    .attr("x", x0 + 79.5).attr("y", (d, i) => ly[i] + 2.2).attr("text-anchor", "middle")
    .attr("font-size", 6.2).attr("letter-spacing", 0.2).text(d => d);
}

panels.forEach(drawPanel);

// separators and frame
const sep = svg.append("g").attr("stroke", "#2a2ad8").attr("stroke-width", 1.2);
sep.append("line").attr("x1", 389.5).attr("x2", 389.5).attr("y1", 0).attr("y2", H);
sep.append("line").attr("x1", 0).attr("x2", W).attr("y1", 184.5).attr("y2", 184.5);
sep.append("line").attr("x1", 0).attr("x2", W).attr("y1", 368.5).attr("y2", 368.5);
const frame = svg.append("g").attr("fill", "#c4c4f2");
frame.append("rect").attr("x", 0).attr("y", 0).attr("width", 3).attr("height", H);
frame.append("rect").attr("x", W - 3).attr("y", 0).attr("width", 3).attr("height", H);
frame.append("rect").attr("x", 0).attr("y", H - 3).attr("width", W).attr("height", 3);
</script>
</body></html>
